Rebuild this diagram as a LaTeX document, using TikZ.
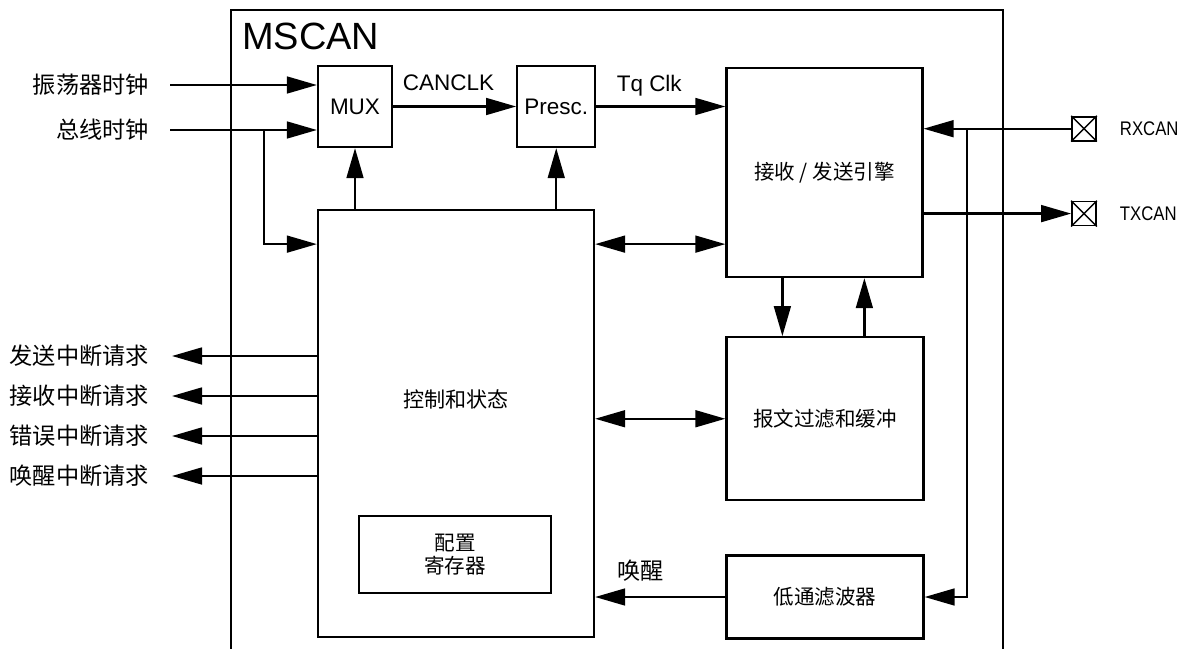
\documentclass[tikz,border=0pt]{standalone}
\usepackage{fontspec}
\setmainfont{Liberation Sans}
\newfontfamily\cjk{Noto Sans CJK SC}
\newfontfamily\narrowsf[FakeStretch=0.85]{Liberation Sans}
\usetikzlibrary{arrows.meta, positioning}

\begin{document}
\begin{tikzpicture}[>={Triangle[length=0.75cm, width=0.42cm]}, line width=1.6pt,
        block/.style={rectangle, draw, inner sep=0pt, align=center, font=\cjk\fontsize{14.6}{16.7}\selectfont},
        clkbox/.style={rectangle, draw, inner sep=0pt, minimum height=2.025cm, font=\fontsize{16}{19}\selectfont},
        lbl/.style={inner sep=0pt, font=\cjk\fontsize{16.5}{20}\selectfont},
        pad/.style={rectangle, draw, line width=1.2pt, minimum size=0.6cm, inner sep=0pt},
        padlbl/.style={inner sep=0pt, font=\narrowsf\fontsize{14}{16}\selectfont}]
        \useasboundingbox (0,0) rectangle (29.675,-16.225);

        % module frame, open at the bottom
        \coordinate (frametl) at (5.775,-0.25);
        \coordinate (frametr) at (25.07,-0.25);
        \draw (frametl |- 0,-16.3) -- (frametl) -- (frametr) -- (frametr |- 0,-16.3);
        \node [below right=0.3cm and 0.25cm of frametl, inner sep=0pt, font=\fontsize{27}{32}\selectfont] (title) {MSCAN};

        % blocks
        \node [clkbox, minimum width=1.85cm] (mux) at (8.875,-2.6625) {MUX};
        \node [clkbox, minimum width=1.95cm, right=3.075cm of mux] (presc) {Presc.};
        \node [block, minimum width=4.9cm, minimum height=5.225cm, below right=0.05cm and 3.225cm of presc.north east] (engine) {接收 / 发送引擎};
        \node [block, minimum width=6.9cm, minimum height=10.675cm, below=1.525cm of mux.south west, anchor=north west] (ctrl) {};
        \node [inner sep=0pt, font=\cjk\fontsize{15}{18}\selectfont] (ctrltext) at ([yshift=0.62cm]ctrl.center) {控制和状态};
        \node [block, minimum width=4.8cm, minimum height=1.925cm, above right=1.1cm and 1.025cm of ctrl.south west] (config) {配置\\寄存器};
        \node [block, minimum width=4.925cm, minimum height=4.075cm, below=1.45cm of engine.south west, anchor=north west] (filter) {报文过滤和缓冲};
        \node [block, minimum width=4.925cm, minimum height=2.075cm, below=1.325cm of filter.south west, anchor=north west] (lpf) {低通滤波器};

        % pins
        \node [pad] (rx) at (27.1,-3.2175) {};
        \node [pad, below=1.48cm of rx] (tx) {};
        \draw [line width=1pt] (rx.north west) -- (rx.south east) (rx.north east) -- (rx.south west);
        \draw [line width=1pt] (tx.north west) -- (tx.south east) (tx.north east) -- (tx.south west);
        \node [padlbl, right=0.55cm of rx] (rxlbl) {RXCAN};
        \node [padlbl, right=0.55cm of tx] (txlbl) {TXCAN};

        % clock inputs
        \coordinate (oscin) at (4.25,-2.125);
        \coordinate (busin) at (4.25,-3.25);
        \coordinate (busbr) at (6.6,-3.25);
        \node [lbl, left=0.5cm of oscin] (osclbl) {振荡器时钟};
        \node [lbl, left=0.5cm of busin] (buslbl) {总线时钟};
        \draw [->] (oscin) -- (oscin -| mux.west);
        \draw [->] (busin) -- (busin -| mux.west);
        \draw [->] (busbr) |- ([yshift=-0.875cm]ctrl.north west);

        % clock path
        \draw [->] (mux) -- node[above=0.375cm, inner sep=0pt, pos=0.45, font=\fontsize{16}{19}\selectfont] {CANCLK} (presc);
        \draw [->] (presc) -- node[above=0.22cm, inner sep=0pt, pos=0.41, font=\fontsize{16}{19}\selectfont] {Tq Clk} (presc -| engine.west);
        \draw [->] (ctrl.north -| mux.south) -- (mux.south);
        \draw [->] (ctrl.north -| presc.south) -- (presc.south);

        % data paths
        \draw [<->] ([yshift=-0.875cm]ctrl.north east) -- ([yshift=-0.875cm]ctrl.north east -| engine.west);
        \draw [<->] (filter.west -| ctrl.east) -- (filter.west);
        \draw [->] ([xshift=1.425cm]engine.south west) -- ([xshift=1.425cm]engine.south west |- filter.north);
        \draw [->] ([xshift=3.475cm]filter.north west) -- ([xshift=3.475cm]filter.north west |- engine.south);
        \draw [->] (lpf.west) -- node[lbl, above=0.36cm, pos=0.65] {唤醒} (lpf.west -| ctrl.east);

        % bus side
        \coordinate (bus) at (24.17,-3.25);
        \draw [->] (rx.west) -- (rx.west -| engine.east);
        \draw [->] (bus |- rx.west) |- (lpf.east);
        \draw [->] (engine.east |- tx.west) -- (tx.west);

        % interrupt requests
        \coordinate (txirq) at (4.3,-8.9);
        \coordinate (rxirq) at (4.3,-9.9);
        \coordinate (errirq) at (4.3,-10.9);
        \coordinate (wupirq) at (4.3,-11.9);
        \draw [->] (ctrl.west |- txirq) -- (txirq);
        \draw [->] (ctrl.west |- rxirq) -- (rxirq);
        \draw [->] (ctrl.west |- errirq) -- (errirq);
        \draw [->] (ctrl.west |- wupirq) -- (wupirq);
        \node [lbl, left=0.55cm of txirq] (txirqlbl) {发送中断请求};
        \node [lbl, left=0.55cm of rxirq] (rxirqlbl) {接收中断请求};
        \node [lbl, left=0.55cm of errirq] (errirqlbl) {错误中断请求};
        \node [lbl, left=0.55cm of wupirq] (wupirqlbl) {唤醒中断请求};
    \end{tikzpicture}
\end{document}
